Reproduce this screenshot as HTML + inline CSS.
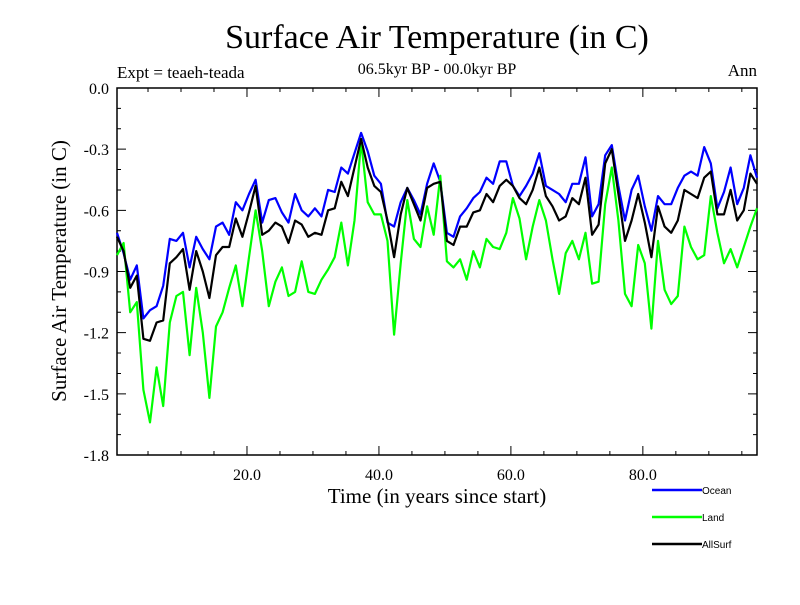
<!DOCTYPE html>
<html><head><meta charset="utf-8"><style>
body{margin:0;background:#fff}
svg text{font-family:"Liberation Serif",serif}
</style></head><body>
<svg width="800" height="600" xmlns="http://www.w3.org/2000/svg">
<rect width="800" height="600" fill="#fff"/>
<text x="437" y="48" font-size="34" text-anchor="middle">Surface Air Temperature (in C)</text>
<text x="117" y="78" font-size="17">Expt = teaeh-teada</text>
<text x="437" y="74" font-size="16" text-anchor="middle">06.5kyr BP - 00.0kyr BP</text>
<text x="757" y="76" font-size="17" text-anchor="end">Ann</text>
<g id="axes"></g>
<g id="series"></g>
<text x="437" y="503" font-size="21" text-anchor="middle">Time (in years since start)</text>
<text transform="translate(66,271) rotate(-90)" font-size="21" text-anchor="middle">Surface Air Temperature (in C)</text>
<g id="legend"></g>
</svg>
<script>
const ocean=[-0.71,-0.81,-0.94,-0.87,-1.13,-1.09,-1.07,-0.97,-0.74,-0.75,-0.71,-0.88,-0.73,-0.79,-0.84,-0.68,-0.66,-0.72,-0.56,-0.60,-0.52,-0.45,-0.66,-0.55,-0.54,-0.61,-0.66,-0.52,-0.60,-0.63,-0.59,-0.63,-0.50,
-0.51,-0.39,-0.42,-0.32,-0.22,-0.31,-0.43,-0.47,-0.66,-0.68,-0.56,-0.49,-0.55,-0.62,-0.47,-0.37,-0.46,-0.71,-0.73,-0.63,-0.59,-0.54,-0.51,-0.44,-0.47,-0.36,-0.36,-0.48,-0.53,-0.48,-0.42,-0.32,
-0.48,-0.50,-0.52,-0.56,-0.47,-0.47,-0.34,-0.63,-0.57,-0.33,-0.28,-0.48,-0.65,-0.50,-0.43,-0.58,-0.70,-0.53,-0.57,-0.57,-0.49,-0.43,-0.41,-0.43,-0.29,-0.37,-0.59,-0.51,-0.39,-0.57,-0.49,-0.33,-0.44];
const land=[-0.82,-0.76,-1.10,-1.05,-1.48,-1.64,-1.37,-1.56,-1.15,-1.02,-1.00,-1.31,-0.98,-1.20,-1.52,-1.17,-1.10,-0.98,-0.87,-1.07,-0.83,-0.60,-0.80,-1.07,-0.95,-0.88,-1.02,-1.00,-0.85,-1.00,-1.01,-0.94,-0.89,
-0.83,-0.66,-0.87,-0.65,-0.26,-0.56,-0.62,-0.62,-0.75,-1.21,-0.86,-0.55,-0.74,-0.78,-0.58,-0.72,-0.43,-0.85,-0.88,-0.84,-0.94,-0.80,-0.88,-0.74,-0.78,-0.79,-0.71,-0.54,-0.64,-0.84,-0.68,-0.55,
-0.65,-0.84,-1.01,-0.81,-0.75,-0.84,-0.71,-0.96,-0.95,-0.57,-0.39,-0.65,-1.01,-1.07,-0.77,-0.86,-1.18,-0.75,-0.99,-1.06,-1.02,-0.68,-0.78,-0.84,-0.82,-0.53,-0.71,-0.86,-0.79,-0.88,-0.78,-0.68,-0.59];
const allsurf=[-0.73,-0.80,-0.98,-0.92,-1.23,-1.24,-1.15,-1.14,-0.86,-0.83,-0.79,-0.99,-0.80,-0.90,-1.03,-0.82,-0.78,-0.78,-0.64,-0.73,-0.61,-0.48,-0.72,-0.70,-0.66,-0.68,-0.76,-0.65,-0.67,-0.73,-0.71,-0.72,-0.60,
-0.59,-0.46,-0.53,-0.39,-0.25,-0.39,-0.48,-0.51,-0.65,-0.83,-0.62,-0.49,-0.57,-0.65,-0.49,-0.47,-0.46,-0.75,-0.77,-0.68,-0.68,-0.61,-0.60,-0.52,-0.56,-0.48,-0.45,-0.48,-0.54,-0.57,-0.50,-0.39,
-0.53,-0.58,-0.65,-0.63,-0.54,-0.57,-0.44,-0.72,-0.67,-0.37,-0.30,-0.52,-0.75,-0.65,-0.52,-0.66,-0.83,-0.58,-0.68,-0.71,-0.65,-0.50,-0.52,-0.54,-0.44,-0.41,-0.62,-0.62,-0.50,-0.65,-0.60,-0.42,-0.47];
const yTickLabels=["0.0","-0.3","-0.6","-0.9","-1.2","-1.5","-1.8"];
const xTickLabels=["20.0","40.0","60.0","80.0"];
const seriesNames=["Ocean","Land","AllSurf"];

const NS="http://www.w3.org/2000/svg";
const X0=117,X1=757,Y0=88,Y1=455,XMIN=0.3,XMAX=97.3,YMIN=-1.8,YMAX=0;
const sx=v=>X0+(v-XMIN)/(XMAX-XMIN)*(X1-X0);
const sy=v=>Y0+(YMAX-v)/(YMAX-YMIN)*(Y1-Y0);
function mk(tag,attrs,parent){const e=document.createElementNS(NS,tag);for(const k in attrs)e.setAttribute(k,attrs[k]);parent.appendChild(e);return e;}
const axes=document.getElementById('axes');
const frame=mk('rect',{x:X0,y:Y0,width:X1-X0,height:Y1-Y0,fill:'none',stroke:'#000','stroke-width':1.5},axes);


for(let k=0;k<=18;k++){const v=-k*0.1;const y=sy(v);const major=k%3===0;const L=major?9:4;
 const t=mk('path',{d:`M${X0},${y}h${L}M${X1},${y}h${-L}`,stroke:'#000','stroke-width':1},axes);
 
 
 if(major){const tx=mk('text',{x:X0-8,y:y+6,'font-size':16,'text-anchor':'end'},axes);tx.textContent=yTickLabels[k/3];
 
 }
}
for(let v=5;v<XMAX;v+=5){const x=sx(v);const major=v%20===0;const L=major?9:4;
 const t=mk('path',{d:`M${x},${Y1}v${-L}M${x},${Y0}v${L}`,stroke:'#000','stroke-width':1},axes);
 
 
 if(major){const tx=mk('text',{x:x,y:Y1+25,'font-size':16,'text-anchor':'middle'},axes);tx.textContent=xTickLabels[v/20-1];
 
 }
}
const sg=document.getElementById('series');
const colors=['#0000ff','#00ff00','#000000'];
[ocean,land,allsurf].forEach((arr,si)=>{
 const d=arr.map((v,i)=>(i?'L':'M')+sx(XMIN+i).toFixed(1)+','+sy(v).toFixed(1)).join('');
 const p=mk('path',{d:d,fill:'none',stroke:colors[si],'stroke-width':2.2,'stroke-linejoin':'round'},sg);
 
 
});
const lg=document.getElementById('legend');
seriesNames.forEach((n,si)=>{const y=490+27*si;
 const l=mk('line',{x1:652,x2:702,y1:y,y2:y,stroke:colors[si],'stroke-width':2.5},lg);
 
 
 const t=mk('text',{x:702,y:y+4,'font-size':10,style:'font-family:"Liberation Sans",sans-serif'},lg);t.textContent=n;
 
 
});
</script>
</body></html>
